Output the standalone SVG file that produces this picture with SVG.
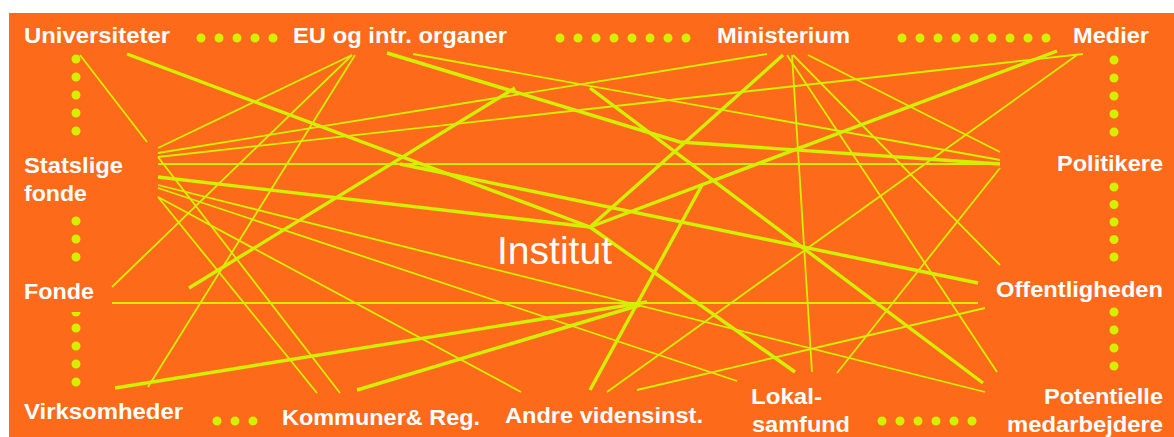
<svg xmlns="http://www.w3.org/2000/svg" width="1174" height="437" viewBox="0 0 1174 437">
<style>
.bg{fill:#fd6a1a}
.lbl{font-family:"Liberation Sans",Arial,sans-serif;font-weight:bold;font-size:22px;fill:#ffffff}
.hub{font-family:"Liberation Sans",Arial,sans-serif;font-size:38px;fill:#ffffff}
.thin{stroke:#d4f000;stroke-width:1.8;fill:none;stroke-linecap:butt}
.thick{stroke:#d4f000;stroke-width:3.4;fill:none;stroke-linejoin:round}
.dots{stroke:#d4f000;stroke-width:9;stroke-linecap:round;stroke-dasharray:0 18;fill:none}
.dots2{stroke:#d4f000;stroke-width:9;stroke-linecap:round;stroke-dasharray:0 17.5;fill:none}
.dot{fill:#d4f000}
</style>
<rect x="0" y="0" width="1174" height="437" fill="#ffffff"/>
<rect class="bg" x="9" y="13" width="1165" height="424"/>

<g id="connectors">
  <g id="thin-links">
    <line class="thin" x1="80" y1="55" x2="147" y2="142"/>
    <line class="thin" x1="352" y1="55" x2="158" y2="148"/>
    <line class="thin" x1="352" y1="55" x2="112" y2="287"/>
    <line class="thin" x1="355" y1="55" x2="148" y2="387"/>
    <line class="thin" x1="413" y1="54" x2="1000" y2="160"/>
    <line class="thin" x1="158" y1="153" x2="767" y2="54"/>
    <line class="thin" x1="158" y1="157" x2="1083" y2="54"/>
    <line class="thin" x1="158" y1="164" x2="1000" y2="164"/>
    <line class="thin" x1="158" y1="185" x2="985" y2="392"/>
    <line class="thin" x1="158" y1="188" x2="737" y2="381"/>
    <line class="thin" x1="158" y1="157" x2="340" y2="393"/>
    <line class="thin" x1="158" y1="197" x2="317" y2="393"/>
    <line class="thin" x1="158" y1="197" x2="521" y2="392"/>
    <line class="thin" x1="112" y1="303" x2="978" y2="303"/>
    <line class="thin" x1="792" y1="55" x2="812" y2="372"/>
    <line class="thin" x1="787" y1="55" x2="997" y2="372"/>
    <line class="thin" x1="793" y1="55" x2="1000" y2="265"/>
    <line class="thin" x1="808" y1="55" x2="1000" y2="152"/>
    <line class="thin" x1="1077" y1="55" x2="607" y2="392"/>
    <line class="thin" x1="1000" y1="168" x2="837" y2="373"/>
    <line class="thin" x1="637" y1="390" x2="985" y2="308"/>
  </g>
  <g id="thick-links">
    <line class="thick" x1="127" y1="54" x2="590" y2="227"/>
    <line class="thick" x1="158" y1="177" x2="590" y2="227"/>
    <line class="thick" x1="590" y1="227" x2="783" y2="55"/>
    <line class="thick" x1="590" y1="227" x2="1057" y2="51"/>
    <line class="thick" x1="590" y1="227" x2="795" y2="372"/>
    <polyline class="thick" points="387,53 680,142 1000,164"/>
    <line class="thick" x1="189" y1="288" x2="515" y2="88"/>
    <line class="thick" x1="590" y1="88" x2="983" y2="383"/>
    <line class="thick" x1="702" y1="185" x2="590" y2="390"/>
    <line class="thick" x1="400" y1="164" x2="978" y2="283"/>
    <line class="thick" x1="115" y1="388" x2="647" y2="302"/>
    <line class="thick" x1="357" y1="390" x2="640" y2="305"/>
  </g>
  <g id="dotted-links">
    <path class="dots" d="M201,38 H274"/>
    <path class="dots" d="M560,38 H687"/>
    <path class="dots" d="M902,38 H1047"/>
    <path class="dots" d="M76,59 V132"/>
    <path class="dots" d="M76,221 V258"/>
    <path class="dots" d="M76,328 V383"/>
    <path class="dot" d="M71.5,312 a4.5,4.5 0 0 0 9,0 z"/>
    <path class="dots" d="M217,421 H254"/>
    <path class="dots" d="M882,421 H973"/>
    <path class="dots" d="M1114,60 V133"/>
    <path class="dots2" d="M1114,187 V258"/>
    <path class="dots" d="M1114,312 V367"/>
  </g>
</g>

<g id="node-universiteter"><text class="lbl" x="24" y="43" textLength="146" lengthAdjust="spacingAndGlyphs">Universiteter</text></g>
<g id="node-eu"><text class="lbl" x="293" y="43" textLength="214" lengthAdjust="spacingAndGlyphs">EU og intr. organer</text></g>
<g id="node-ministerium"><text class="lbl" x="717" y="43" textLength="133" lengthAdjust="spacingAndGlyphs">Ministerium</text></g>
<g id="node-medier"><text class="lbl" x="1073" y="43" textLength="76" lengthAdjust="spacingAndGlyphs">Medier</text></g>
<g id="node-statslige-fonde">
  <text class="lbl" x="24" y="173" textLength="99" lengthAdjust="spacingAndGlyphs">Statslige</text>
  <text class="lbl" x="24" y="201" textLength="63" lengthAdjust="spacingAndGlyphs">fonde</text>
</g>
<g id="node-fonde"><text class="lbl" x="24" y="299" textLength="70" lengthAdjust="spacingAndGlyphs">Fonde</text></g>
<g id="node-virksomheder"><text class="lbl" x="24" y="419" textLength="159" lengthAdjust="spacingAndGlyphs">Virksomheder</text></g>
<g id="node-kommuner"><text class="lbl" x="282" y="425" textLength="198" lengthAdjust="spacingAndGlyphs">Kommuner&amp; Reg.</text></g>
<g id="node-andre"><text class="lbl" x="505" y="423" textLength="198" lengthAdjust="spacingAndGlyphs">Andre vidensinst.</text></g>
<g id="node-lokalsamfund">
  <text class="lbl" x="751" y="404" textLength="71" lengthAdjust="spacingAndGlyphs">Lokal-</text>
  <text class="lbl" x="752" y="432" textLength="98" lengthAdjust="spacingAndGlyphs">samfund</text>
</g>
<g id="node-politikere"><text class="lbl" x="1057" y="171" textLength="106" lengthAdjust="spacingAndGlyphs">Politikere</text></g>
<g id="node-offentligheden"><text class="lbl" x="996" y="297" textLength="167" lengthAdjust="spacingAndGlyphs">Offentligheden</text></g>
<g id="node-potentielle">
  <text class="lbl" x="1044" y="404" textLength="119" lengthAdjust="spacingAndGlyphs">Potentielle</text>
  <text class="lbl" x="1007" y="432" textLength="156" lengthAdjust="spacingAndGlyphs">medarbejdere</text>
</g>
<g id="node-institut"><text class="hub" x="497" y="264" textLength="115" lengthAdjust="spacingAndGlyphs">Institut</text></g>
</svg>
